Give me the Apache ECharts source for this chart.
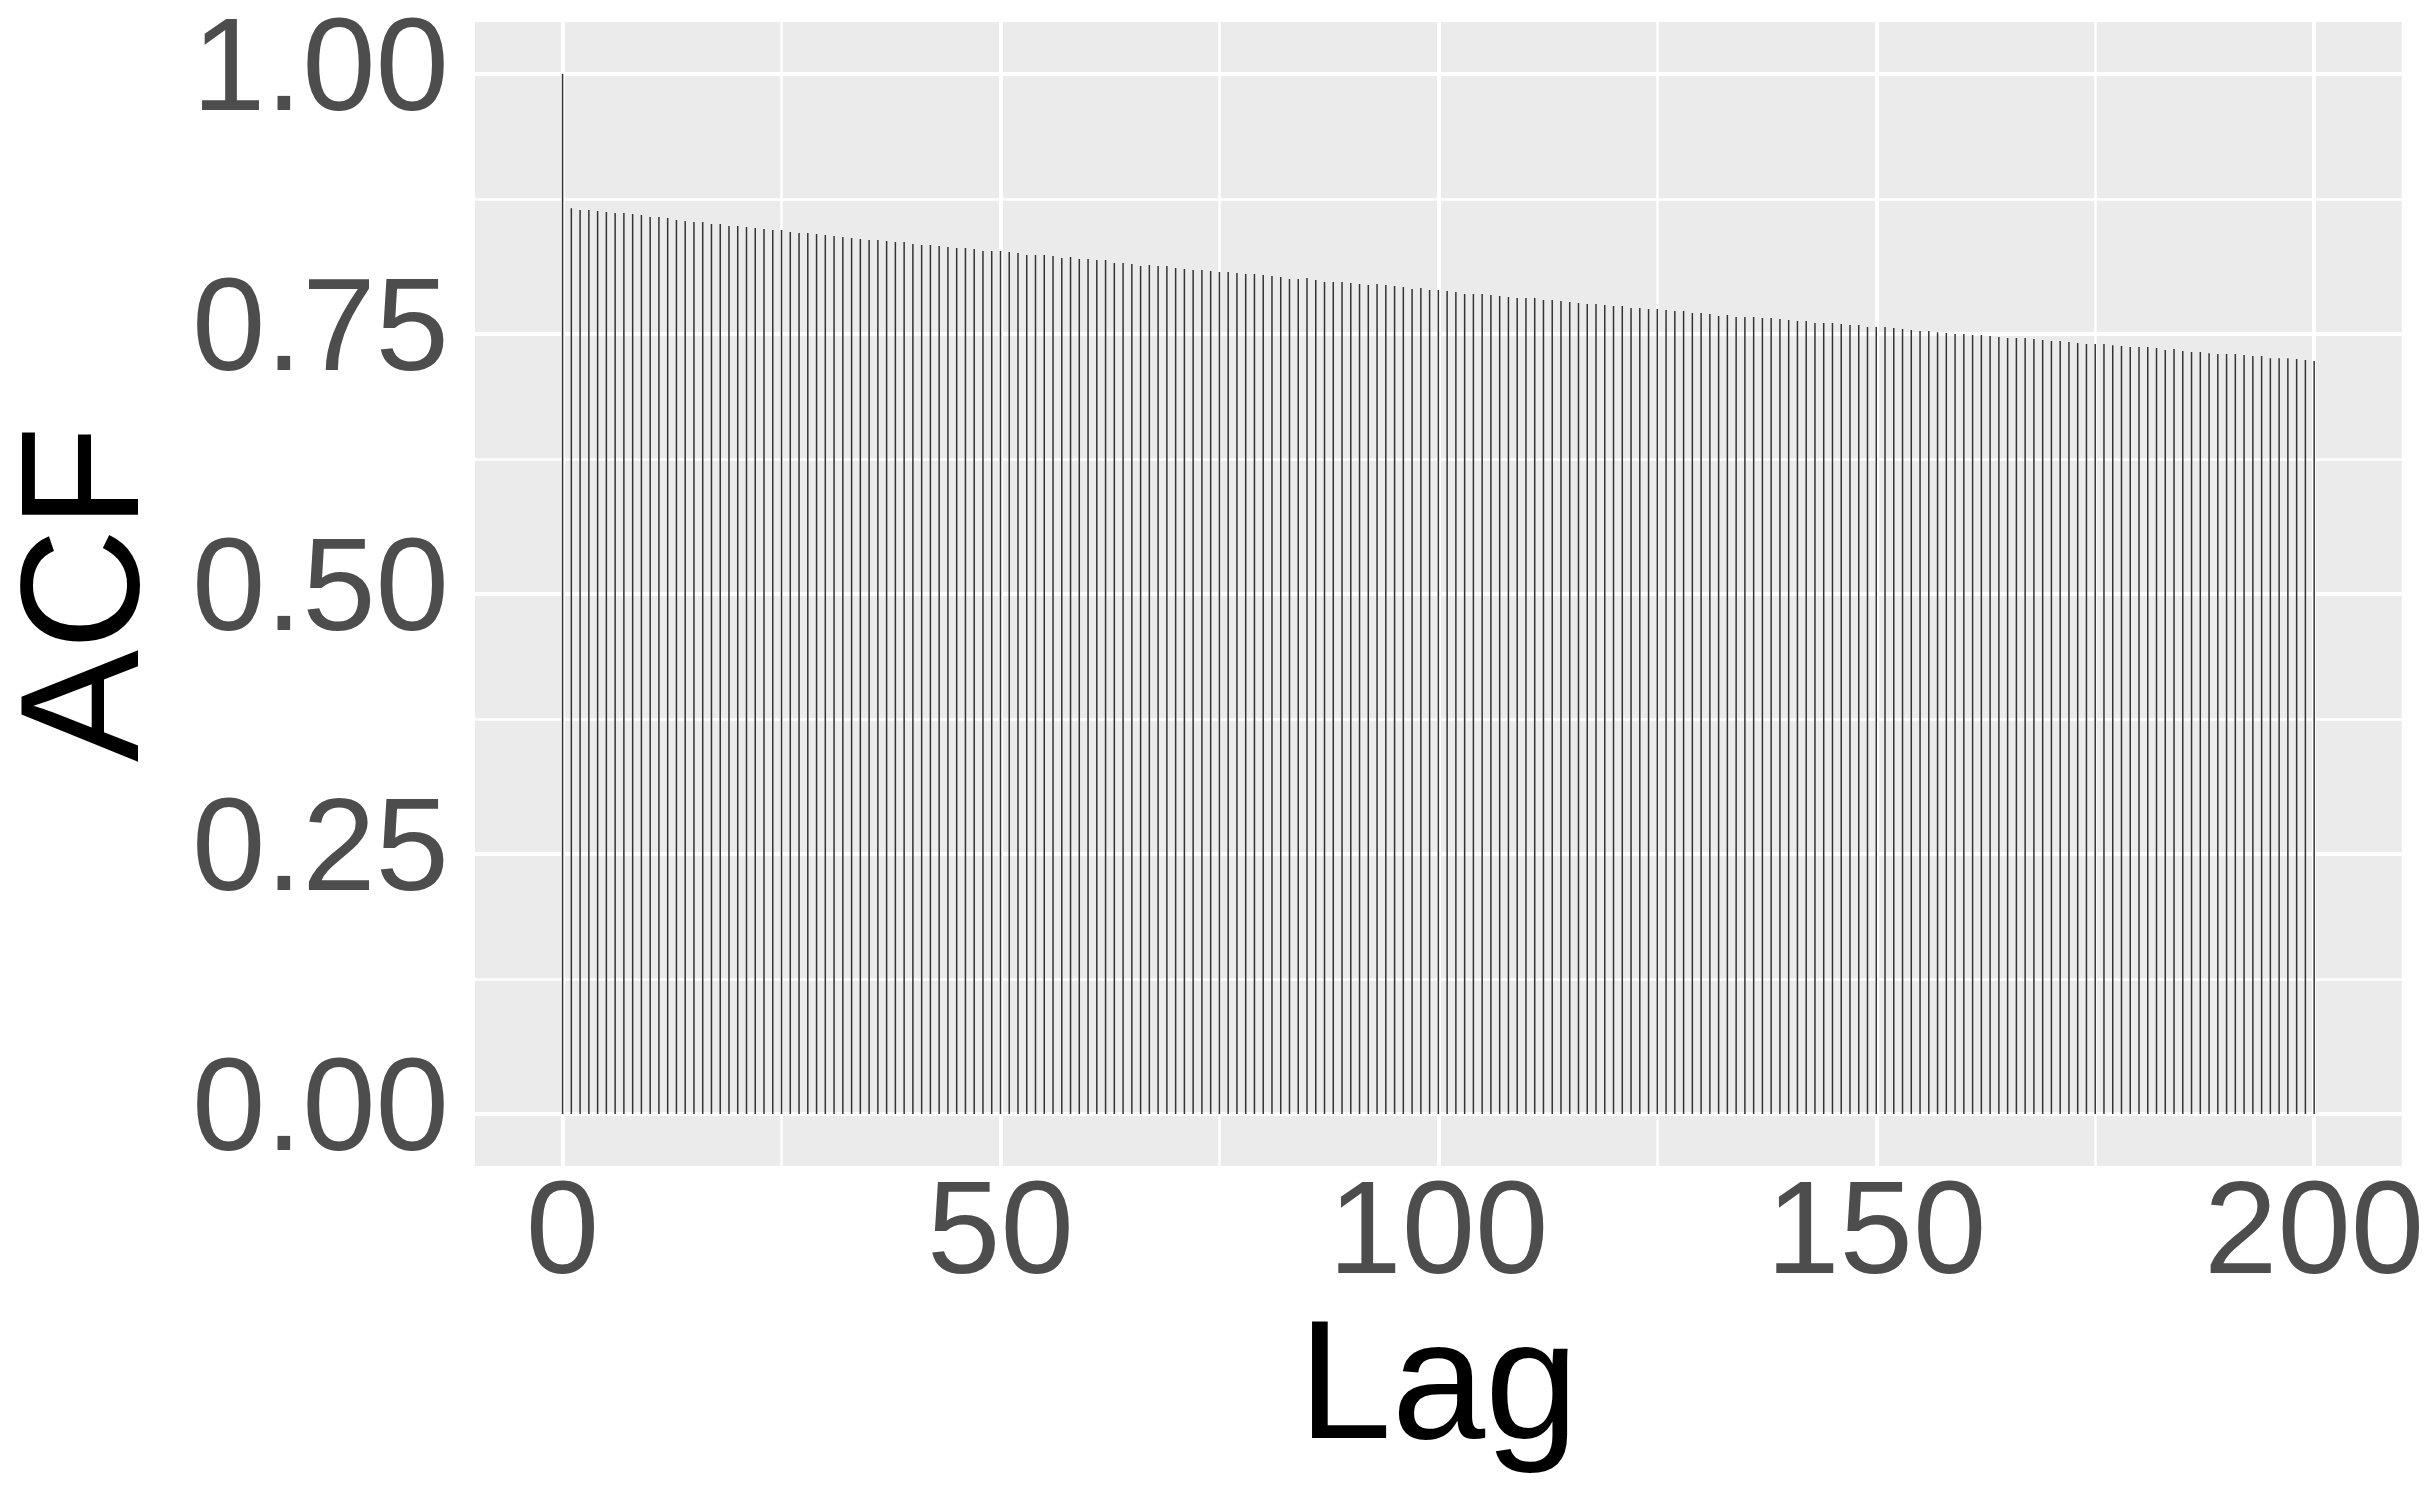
<!DOCTYPE html>
<html>
<head>
<meta charset="utf-8">
<script src="https://cdn.jsdelivr.net/npm/echarts@6/dist/echarts.min.js"></script>
<style>
html,body{margin:0;padding:0;background:#fff;}
#main{width:2427px;height:1500px;}
</style>
</head>
<body>
<div id="main"></div>
<script>
// acf value per lag, lag = index (0..200)
var acfValues = [
  1.0000,
  0.8708,0.8692,0.8692,0.8682,0.8673,0.8663,0.8663,0.8654,0.8644,0.8625,
  0.8625,0.8615,0.8596,0.8586,0.8577,0.8577,0.8557,0.8557,0.8538,0.8538,
  0.8529,0.8519,0.8509,0.8500,0.8500,0.8480,0.8471,0.8471,0.8461,0.8452,
  0.8442,0.8432,0.8423,0.8413,0.8403,0.8403,0.8394,0.8384,0.8384,0.8365,
  0.8355,0.8355,0.8346,0.8336,0.8326,0.8326,0.8317,0.8298,0.8298,0.8298,
  0.8288,0.8278,0.8259,0.8259,0.8259,0.8250,0.8230,0.8240,0.8221,0.8221,
  0.8211,0.8211,0.8182,0.8182,0.8172,0.8153,0.8163,0.8153,0.8153,0.8134,
  0.8124,0.8115,0.8115,0.8105,0.8096,0.8096,0.8086,0.8076,0.8076,0.8067,
  0.8057,0.8048,0.8028,0.8028,0.8038,0.8019,0.7999,0.7999,0.7999,0.7990,
  0.7980,0.7971,0.7980,0.7971,0.7961,0.7951,0.7932,0.7942,0.7923,0.7923,
  0.7913,0.7903,0.7884,0.7884,0.7884,0.7875,0.7865,0.7855,0.7846,0.7846,
  0.7846,0.7826,0.7826,0.7817,0.7807,0.7797,0.7788,0.7788,0.7778,0.7769,
  0.7769,0.7749,0.7749,0.7740,0.7740,0.7730,0.7721,0.7721,0.7701,0.7701,
  0.7692,0.7672,0.7682,0.7663,0.7663,0.7663,0.7653,0.7653,0.7644,0.7634,
  0.7624,0.7624,0.7605,0.7605,0.7605,0.7596,0.7586,0.7586,0.7567,0.7567,
  0.7567,0.7557,0.7547,0.7538,0.7528,0.7528,0.7518,0.7509,0.7499,0.7499,
  0.7490,0.7490,0.7480,0.7470,0.7461,0.7461,0.7461,0.7451,0.7442,0.7432,
  0.7432,0.7422,0.7413,0.7403,0.7403,0.7403,0.7393,0.7384,0.7374,0.7374,
  0.7374,0.7365,0.7345,0.7355,0.7336,0.7326,0.7326,0.7316,0.7307,0.7307,
  0.7307,0.7297,0.7288,0.7288,0.7268,0.7268,0.7268,0.7259,0.7249,0.7240
];

var xTicks = [0, 50, 100, 150, 200];
var xMinor = [25, 75, 125, 175];
var yTicks = [0, 0.25, 0.5, 0.75, 1.0];
var yMinor = [0.125, 0.375, 0.625, 0.875];

var barData = acfValues.map(function(v, i){ return [i, v]; });

// panel grid lines, drawn under the bars
var gridLines = [];
xTicks.forEach(function(v){ gridLines.push({xAxis: v, lineStyle: {width: 4}}); });
xMinor.forEach(function(v){ gridLines.push({xAxis: v, lineStyle: {width: 2.5}}); });
yTicks.forEach(function(v){ gridLines.push({yAxis: v, lineStyle: {width: 4}}); });
yMinor.forEach(function(v){ gridLines.push({yAxis: v, lineStyle: {width: 2.5}}); });

var font = 'Liberation Sans';
var myChart = echarts.init(document.getElementById('main'));

var option = {
  backgroundColor: '#ffffff',
  animation: false,
  grid: {
    left: 469, top: 22, width: 1935, height: 1144,
    show: true, backgroundColor: '#EBEBEB', borderWidth: 0
  },
  xAxis: {
    type: 'value',
    min: -10, max: 210,
    name: 'Lag',
    nameLocation: 'middle',
    nameGap: 135,
    nameTextStyle: {fontFamily: font, fontSize: 168, color: '#000000', lineHeight: 168},
    axisLine: {show: false},
    axisTick: {show: true, length: 11, customValues: xTicks, lineStyle: {color: '#333333', width: 4}},
    axisLabel: {
      customValues: xTicks, margin: 5,
      fontFamily: font, fontSize: 132, lineHeight: 132, color: '#4D4D4D',
      formatter: function(v){ return String(v); }
    },
    splitLine: {show: false}
  },
  yAxis: {
    type: 'value',
    min: -0.05, max: 1.05,
    name: 'ACF',
    nameLocation: 'middle',
    nameGap: 299,
    nameTextStyle: {fontFamily: font, fontSize: 168, color: '#000000', lineHeight: 168},
    axisLine: {show: false},
    axisTick: {show: true, length: 11, customValues: yTicks, lineStyle: {color: '#333333', width: 4}},
    axisLabel: {
      customValues: yTicks, margin: 26,
      fontFamily: font, fontSize: 132, lineHeight: 132, color: '#4D4D4D',
      formatter: function(v){ return v.toFixed(2); }
    },
    splitLine: {show: false}
  },
  series: [
    {
      type: 'line',
      data: [],
      z: 1,
      silent: true,
      markLine: {
        z: 1,
        silent: true,
        symbol: 'none',
        label: {show: false},
        lineStyle: {color: '#ffffff', type: 'solid'},
        data: gridLines
      }
    },
    {
      type: 'bar',
      data: barData,
      barWidth: 1.5,
      z: 10,
      itemStyle: {color: '#333333'}
    }
  ]
};

myChart.setOption(option);
</script>
</body>
</html>
